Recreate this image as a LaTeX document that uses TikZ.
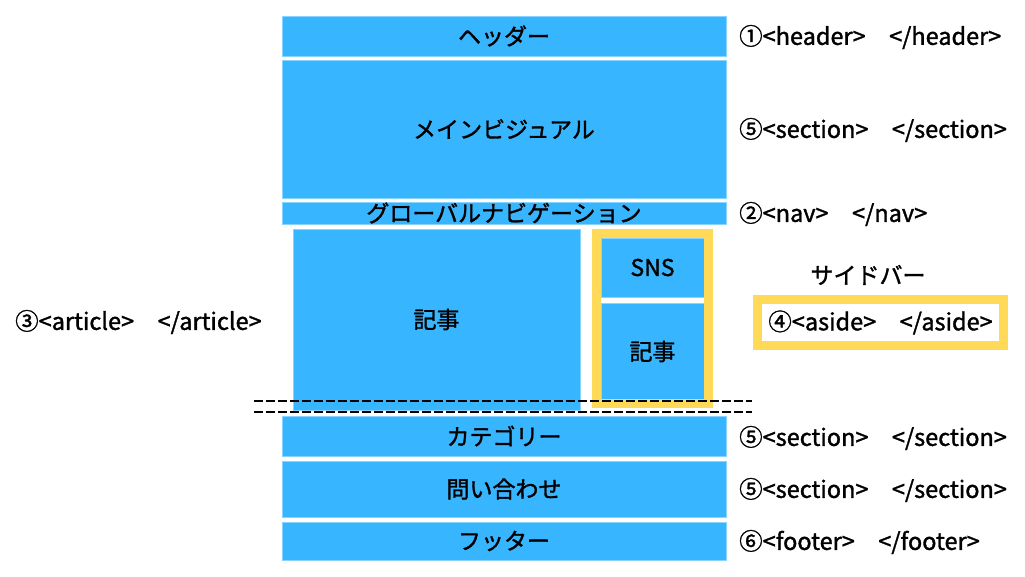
\documentclass[tikz,border=0pt]{standalone}
\usepackage{fontspec}
\setmainfont{Noto Sans CJK JP}[RawFeature={embolden=1.4}]
\definecolor{skyblue}{RGB}{56,181,255}
\definecolor{frameyellow}{RGB}{255,218,89}
\tikzset{
	box/.style={fill=skyblue, draw=skyblue!60!white, line width=0.6pt, inner sep=0, align=center},
	tag/.style={anchor=west, inner sep=0, font=\fontsize{23.5}{27}\selectfont},
	yframe/.style={draw=frameyellow, line width=9pt}
}

\begin{document}
\begin{tikzpicture}[x=1pt, y=-1pt, font=\fontsize{23}{27}\selectfont]
			\useasboundingbox (0, 0) rectangle (1025, 577); %page size of the picture
			
			%the blue blocks from top to bottom
			\node[box, minimum width=444pt, minimum height=40pt] (header) at (504, 36) {ヘッダー};
			\node[box, minimum width=444pt, minimum height=138pt] (mainvisual) at (504, 129) {メインビジュアル};
			\node[box, minimum width=444pt, minimum height=22pt] (globalnav) at (504, 213) {グローバルナビゲーション};
			\node[box, minimum width=287pt, minimum height=181pt] (article) at (436.5, 319.5) {記事};
			\node[box, minimum width=103pt, minimum height=59pt] (sns) at (652.5, 267.5) {SNS};
			\node[box, minimum width=103pt, minimum height=97pt] (sidearticle) at (652.5, 351.5) {記事};
			\node[box, minimum width=444pt, minimum height=40pt] (category) at (504, 436) {カテゴリー};
			\node[box, minimum width=444pt, minimum height=56pt] (contact) at (504, 489) {問い合わせ};
			\node[box, minimum width=444pt, minimum height=38pt] (footer) at (504, 541) {フッター};
			
			\draw[yframe] (596.5, 233.5) rectangle (708.5, 403.5); %yellow frame round the sidebar
			
			%two dashed lines across the bottom of the article
			\coordinate (cutA) at (254, 401);
			\coordinate (cutB) at (752, 401);
			\coordinate (cutC) at (254, 412);
			\coordinate (cutD) at (752, 412);
			\draw[line width=2pt, dash pattern=on 9pt off 3pt] (cutA) -- (cutB);
			\draw[line width=2pt, dash pattern=on 9pt off 3pt] (cutC) -- (cutD);
			
			%tags on the right
			\node[tag] (tagheader) at (739, 37) {①<header>　</header>};
			\node[tag] (tagmain) at (739, 130) {⑤<section>　</section>};
			\node[tag] (tagnav) at (739, 214) {②<nav>　</nav>};
			\node[tag] (tagcategory) at (739, 438) {⑤<section>　</section>};
			\node[tag] (tagcontact) at (739, 490) {⑤<section>　</section>};
			\node[tag] (tagfooter) at (739, 542) {⑥<footer>　</footer>};
			\node[tag] (tagarticle) at (15, 322) {③<article>　</article>};
			
			\node[inner sep=0] (sidebartitle) at (868, 275) {サイドバー};
			\node[yframe, tag, anchor=center, minimum width=246pt, minimum height=46pt] (tagaside) at (880.5, 322.5) {④<aside>　</aside>}; %yellow box round the aside tag
		\end{tikzpicture}
\end{document}
